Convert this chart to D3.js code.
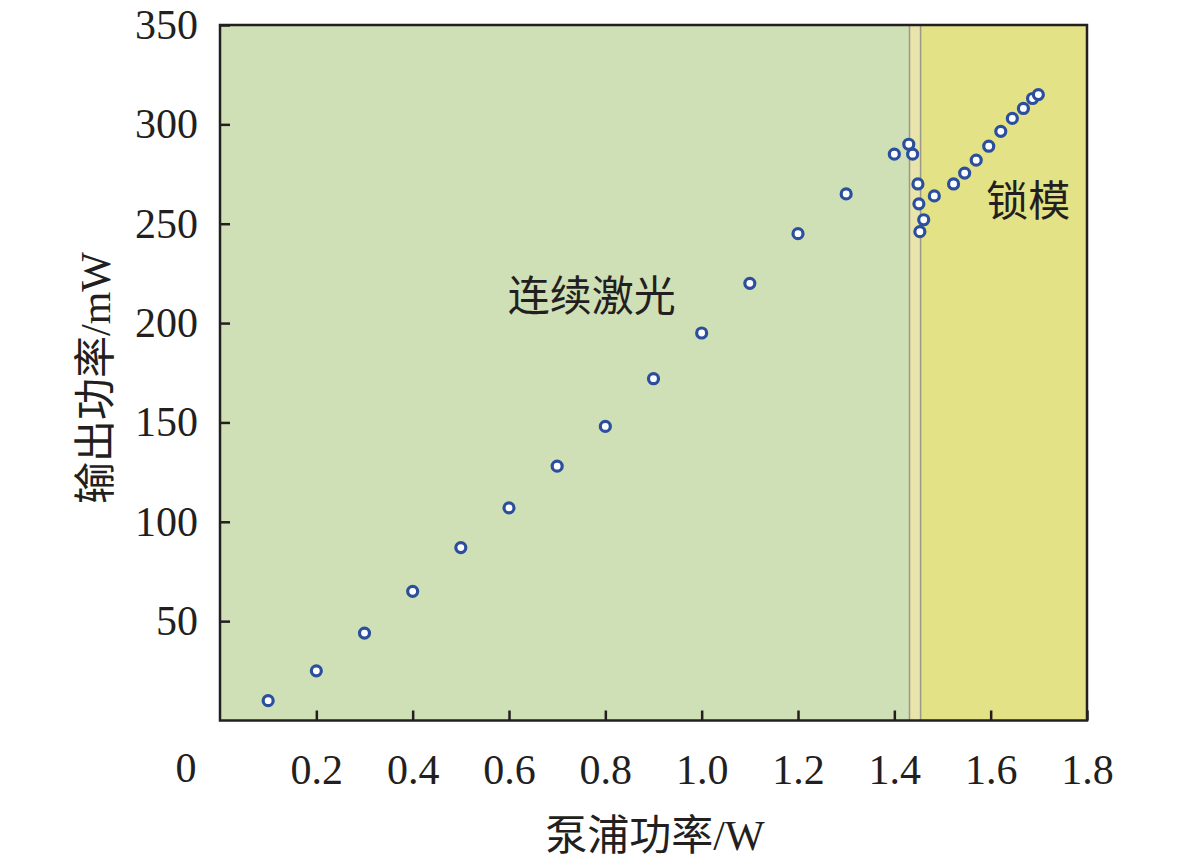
<!DOCTYPE html>
<html>
<head>
<meta charset="utf-8">
<script src="https://cdn.jsdelivr.net/npm/d3@7"></script>
<style>
  body { margin: 0; background: #ffffff; }
  text { fill: #231f20; }
</style>
</head>
<body>
<div id="chart"></div>
<script>
// pump power (W) and output power (mW)
var pumpPower = [0.1, 0.2, 0.3, 0.4, 0.5, 0.6, 0.7, 0.8, 0.9, 1.0, 1.1, 1.2, 1.3,
    1.4, 1.43, 1.438, 1.449, 1.451, 1.461, 1.453, 1.483, 1.523, 1.546, 1.570,
    1.596, 1.621, 1.645, 1.668, 1.687, 1.699];
var outputPower = [10, 25, 44, 65, 87, 107, 128, 148, 172, 195, 220, 245, 265,
    285, 290, 285, 270, 260, 252, 246, 264, 270, 275.5, 282,
    289, 296.5, 303, 308, 313, 315];

// regions: continuous wave / transition band / mode locking
var regionStart = [0, 1.4315, 1.4545];
var regionEnd = [1.4315, 1.4545, 1.8];
var regionColor = ["#cfe0b7", "#e9e4ab", "#e3e286"];

var xTicks = [0.2, 0.4, 0.6, 0.8, 1.0, 1.2, 1.4, 1.6, 1.8];
var yTicks = [50, 100, 150, 200, 250, 300, 350];

var labels = [
    { text: "连续激光", x: 0.772, y: 206 },
    { text: "锁模", x: 1.678, y: 254 }
];

var width = 1181, height = 864;
var plotLeft = 220, plotRight = 1087, plotTop = 25, plotBottom = 720.5;
var ink = "#231f20";
var numFont = "'Liberation Serif', 'Times New Roman', serif";
var cjkFont = "'Liberation Serif', 'Noto Sans CJK SC', serif";

var svg = d3.select("#chart").append("svg")
    .attr("width", width)
    .attr("height", height);

var xScale = d3.scaleLinear().domain([0, 1.8]).range([plotLeft, plotRight]);
var yScale = d3.scaleLinear().domain([0, 350]).range([plotBottom, plotTop]);

// background regions
svg.selectAll("rect.region")
    .data(regionStart)
    .enter().append("rect")
    .attr("class", "region")
    .attr("x", function (d) { return xScale(d); })
    .attr("y", plotTop)
    .attr("width", function (d, i) { return xScale(regionEnd[i]) - xScale(d); })
    .attr("height", plotBottom - plotTop)
    .attr("fill", function (d, i) { return regionColor[i]; });

// thin grey lines around the transition band
svg.selectAll("line.band")
    .data([regionStart[1], regionEnd[1]])
    .enter().append("line")
    .attr("class", "band")
    .attr("x1", function (d) { return xScale(d); })
    .attr("x2", function (d) { return xScale(d); })
    .attr("y1", plotTop)
    .attr("y2", plotBottom)
    .attr("stroke", "#9a9a8a")
    .attr("stroke-width", 1.5);

// x axis, ticks pointing inward
var xAxis = svg.append("g")
    .attr("transform", "translate(0," + plotBottom + ")")
    .call(d3.axisBottom(xScale).tickValues(xTicks).tickSize(-10).tickPadding(34)
        .tickFormat(d3.format(".1f")));

// y axis, ticks pointing inward
var yAxis = svg.append("g")
    .attr("transform", "translate(" + plotLeft + ",0)")
    .call(d3.axisLeft(yScale).tickValues(yTicks).tickSize(-10).tickPadding(22)
        .tickFormat(d3.format("d")));

[xAxis, yAxis].forEach(function (g) {
    g.select(".domain").remove();
    g.selectAll(".tick line").attr("stroke", ink).attr("stroke-width", 2.5);
    g.selectAll(".tick text")
        .style("font-family", numFont)
        .style("font-size", "42px")
        .attr("fill", ink);
});
xAxis.selectAll(".tick text").attr("dy", "0.71em");

// origin label sits apart from the axis
svg.append("text")
    .attr("x", 186)
    .attr("y", 782)
    .attr("text-anchor", "middle")
    .style("font-family", numFont)
    .style("font-size", "42px")
    .text("0");

// frame
svg.append("rect")
    .attr("x", plotLeft)
    .attr("y", plotTop)
    .attr("width", plotRight - plotLeft)
    .attr("height", plotBottom - plotTop)
    .attr("fill", "none")
    .attr("stroke", ink)
    .attr("stroke-width", 2.5);

// points
svg.append("g").selectAll("circle")
    .data(pumpPower)
    .enter().append("circle")
    .attr("cx", function (d) { return xScale(d); })
    .attr("cy", function (d, i) { return yScale(outputPower[i]); })
    .attr("r", 5)
    .attr("fill", "#ffffff")
    .attr("stroke", "#2b4f9c")
    .attr("stroke-width", 3.2);

// region labels
svg.selectAll("text.region-label")
    .data(labels)
    .enter().append("text")
    .attr("class", "region-label")
    .attr("x", function (d) { return xScale(d.x); })
    .attr("y", function (d) { return yScale(d.y); })
    .attr("text-anchor", "middle")
    .style("font-family", cjkFont)
    .style("font-size", "42px")
    .text(function (d) { return d.text; });

// axis titles
svg.append("text")
    .attr("x", 655)
    .attr("y", 850)
    .attr("text-anchor", "middle")
    .style("font-family", cjkFont)
    .style("font-size", "42px")
    .text("泵浦功率/W");

svg.append("text")
    .attr("transform", "translate(110,378) rotate(-90)")
    .attr("text-anchor", "middle")
    .style("font-family", cjkFont)
    .style("font-size", "42px")
    .text("输出功率/mW");
</script>
</body>
</html>
